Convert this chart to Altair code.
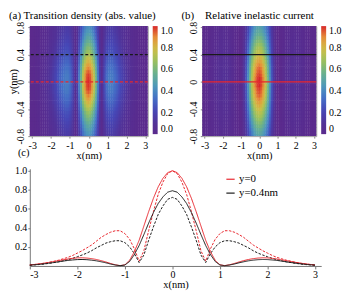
import altair as alt
import pandas as pd

# ---------------- data ----------------
# x grid (nm) for the profiles, -3 ... 3 step 0.1
x_nm = [round(-3 + 0.1 * i, 1) for i in range(61)]

# (c) transition density |rho|, y = 0 (red dashed)
dens_y0 = [0.01, 0.015, 0.021, 0.028, 0.037, 0.048, 0.06, 0.075, 0.09, 0.11,
           0.135, 0.16, 0.19, 0.22, 0.26, 0.30, 0.33, 0.355, 0.37, 0.37,
           0.34, 0.28, 0.18, 0.05, 0.16, 0.37, 0.57, 0.75, 0.88, 0.97,
           1.00,
           0.97, 0.88, 0.75, 0.57, 0.37, 0.16, 0.05, 0.18, 0.28, 0.34,
           0.37, 0.37, 0.355, 0.33, 0.30, 0.26, 0.22, 0.19, 0.16, 0.135,
           0.11, 0.09, 0.075, 0.06, 0.048, 0.037, 0.028, 0.021, 0.015, 0.01]
# (c) transition density, y = 0.4 nm (black dashed)
dens_y04 = [0.007, 0.011, 0.015, 0.02, 0.027, 0.035, 0.043, 0.054, 0.065, 0.08,
            0.097, 0.115, 0.135, 0.16, 0.19, 0.215, 0.24, 0.255, 0.265, 0.265,
            0.245, 0.20, 0.13, 0.036, 0.115, 0.27, 0.41, 0.54, 0.63, 0.70,
            0.72,
            0.70, 0.63, 0.54, 0.41, 0.27, 0.115, 0.036, 0.13, 0.20, 0.245,
            0.265, 0.265, 0.255, 0.24, 0.215, 0.19, 0.16, 0.135, 0.115, 0.097,
            0.08, 0.065, 0.054, 0.043, 0.035, 0.027, 0.02, 0.015, 0.011, 0.007]
# (c) relative inelastic current, y = 0 (red solid)
curr_y0 = [0.011, 0.016, 0.022, 0.029, 0.037, 0.046, 0.055, 0.064, 0.073, 0.080,
           0.085, 0.086, 0.083, 0.077, 0.068, 0.056, 0.042, 0.026, 0.012, 0.004,
           0.012, 0.06, 0.15, 0.27, 0.42, 0.57, 0.71, 0.83, 0.92, 0.98,
           1.00,
           0.98, 0.92, 0.83, 0.71, 0.57, 0.42, 0.27, 0.15, 0.06, 0.012,
           0.004, 0.012, 0.026, 0.042, 0.056, 0.068, 0.077, 0.083, 0.086, 0.085,
           0.080, 0.073, 0.064, 0.055, 0.046, 0.037, 0.029, 0.022, 0.016, 0.011]
# (c) relative inelastic current, y = 0.4 nm (black solid)
curr_y04 = [0.009, 0.013, 0.017, 0.023, 0.029, 0.036, 0.043, 0.051, 0.058, 0.063,
            0.067, 0.068, 0.066, 0.061, 0.054, 0.044, 0.033, 0.02, 0.01, 0.003,
            0.01, 0.047, 0.12, 0.215, 0.33, 0.45, 0.56, 0.655, 0.725, 0.775,
            0.79,
            0.775, 0.725, 0.655, 0.56, 0.45, 0.33, 0.215, 0.12, 0.047, 0.01,
            0.003, 0.01, 0.02, 0.033, 0.044, 0.054, 0.061, 0.066, 0.068, 0.067,
            0.063, 0.058, 0.051, 0.043, 0.036, 0.029, 0.023, 0.017, 0.013, 0.009]

# y grid (nm) of the maps, -0.85 ... 0.85 step 0.05, and the relative fall-off along y
y_nm = [round(-0.85 + 0.05 * j, 2) for j in range(35)]
yfall_dens = [0.40, 0.42, 0.45, 0.48, 0.51, 0.55, 0.59, 0.63, 0.67, 0.72, 0.77, 0.82,
              0.87, 0.91, 0.95, 0.98, 0.99, 1.00, 0.99, 0.98, 0.95, 0.91, 0.87,
              0.82, 0.77, 0.72, 0.67, 0.63, 0.59, 0.55, 0.51, 0.48, 0.45, 0.42, 0.40]
yfall_curr = [0.46, 0.49, 0.52, 0.55, 0.59, 0.63, 0.67, 0.71, 0.75, 0.79, 0.83, 0.87,
              0.91, 0.94, 0.96, 0.98, 1.00, 1.00, 1.00, 0.98, 0.96, 0.94, 0.91,
              0.87, 0.83, 0.79, 0.75, 0.71, 0.67, 0.63, 0.59, 0.55, 0.52, 0.49, 0.46]

x_ticks = [-3, -2, -1, 0, 1, 2, 3]
y_ticks = [-0.8, -0.4, 0, 0.4, 0.8]
c_yticks = [0.2, 0.4, 0.6, 0.8, 1.0]
cbar_ticks = [0, 0.2, 0.4, 0.6, 0.8, 1.0]
series_names = ["y=0", "y=0.4nm"]
cut_lines = [0.0, 0.4]

title_a = "(a) Transition density (abs. value)"
title_b = "(b)\u00a0\u00a0\u00a0\u00a0Relative inelastic current"

# colour map (rainbow, purple -> red)
cmap_stops = [0, 0.11, 0.22, 0.33, 0.44, 0.56, 0.67, 0.78, 0.89, 1.0]
cmap_cols = ["#5b2a8c", "#513399", "#4647b6", "#456fc6", "#4d97bc", "#68b08e",
             "#98c05e", "#cbbf48", "#e6953a", "#d8282a"]

FONT = "Liberation Serif"

# ---------------- tables ----------------
def heat_table(profile, yfall):
    rows = []
    for i, xv in enumerate(x_nm):
        x_lo = xv - 0.06 if i > 0 else xv - 0.3
        x_hi = xv + 0.06 if i < len(x_nm) - 1 else xv + 0.3
        for j, yv in enumerate(y_nm):
            rows.append({"hx": x_lo, "hx2": x_hi, "hy": yv - 0.03, "hy2": yv + 0.03,
                         "v": profile[i] * yfall[j]})
    return pd.DataFrame(rows)

heat_a = heat_table(dens_y0, yfall_dens)
heat_b = heat_table(curr_y0, yfall_curr)

lines_df = pd.DataFrame(
    [{"x": xv, "val": dens_y0[i], "series": series_names[0], "kind": "density"} for i, xv in enumerate(x_nm)]
    + [{"x": xv, "val": dens_y04[i], "series": series_names[1], "kind": "density"} for i, xv in enumerate(x_nm)]
    + [{"x": xv, "val": curr_y0[i], "series": series_names[0], "kind": "current"} for i, xv in enumerate(x_nm)]
    + [{"x": xv, "val": curr_y04[i], "series": series_names[1], "kind": "current"} for i, xv in enumerate(x_nm)]
)
cuts_df = pd.DataFrame({"hy": cut_lines, "series": series_names})

# ---------------- heat map panels ----------------
HX = alt.Scale(domain=[-3.13, 3.13], nice=False, zero=False)
HY = alt.Scale(domain=[-0.8, 0.82], nice=False, zero=False)


def heat_panel(df, title, w, ytitle, dashed, label_expr):
    xax = alt.Axis(values=x_ticks, labelExpr="'' + datum.value", title="x(nm)",
                   tickSize=2, labelPadding=2, titlePadding=1, domain=False,
                   labelFontSize=10, titleFontSize=10.5, titleFontWeight="normal",
                   tickColor="#888", labelOverlap=False)
    yax_kw = dict(values=y_ticks, labelExpr="'' + datum.value", labelAngle=-90,
                  labelAlign="center", labelBaseline="bottom",
                  tickSize=2, labelPadding=2, domain=False, labelFontSize=10,
                  tickColor="#888", labelFlush=True, labelOverlap=False, labelBound=False)
    if ytitle:
        yax = alt.Axis(title="y(nm)", titleFontSize=10.5, titleFontWeight="normal",
                       titleX=-11, **yax_kw)
    else:
        yax = alt.Axis(title=None, **yax_kw)
    heat = alt.Chart(df).mark_rect(clip=True).encode(
        x=alt.X("hx:Q", scale=HX, axis=xax),
        x2="hx2:Q",
        y=alt.Y("hy:Q", scale=HY, axis=yax),
        y2="hy2:Q",
        color=alt.Color("v:Q",
                        scale=alt.Scale(domain=cmap_stops, range=cmap_cols, interpolate="rgb"),
                        legend=alt.Legend(orient="none", legendX=w + 5, legendY=0,
                                          title=None, gradientLength=109, gradientThickness=5,
                                          values=cbar_ticks, labelExpr=label_expr,
                                          labelFontSize=10, labelOffset=3,
                                          gradientStrokeWidth=0)),
    )
    rule_kw = dict(strokeWidth=1.2)
    if dashed:
        rule_kw["strokeDash"] = [3, 2]
    rules = alt.Chart(cuts_df).mark_rule(**rule_kw).encode(
        y=alt.Y("hy:Q", scale=HY, axis=yax),
        color=alt.Color("series:N", scale=alt.Scale(domain=series_names, range=["#e8262e", "#1a1a1a"]),
                        legend=None),
    )
    return alt.layer(heat, rules).resolve_scale(color="independent").properties(
        width=w, height=111,
        title=alt.TitleParams(title, anchor="start", frame="group", dx=-21, offset=0,
                              fontSize=11, fontWeight="normal", font=FONT),
    )


panel_a = heat_panel(heat_a, title_a, 119, True, True, "format(datum.value, '.1f')")
panel_b = heat_panel(heat_b, title_b, 115, False, False,
                     "datum.value == 0 ? '0' : format(datum.value, '.1f')")

# ---------------- line panel ----------------
panel_c = alt.Chart(lines_df).mark_line(strokeWidth=1.0).encode(
    x=alt.X("x:Q", scale=alt.Scale(domain=[-3, 3.13], nice=False, zero=False),
            axis=alt.Axis(values=x_ticks, labelExpr="'' + datum.value", title="x(nm)",
                          tickSize=3, labelPadding=1, titlePadding=0, labelFontSize=10,
                          titleFontSize=10.5, titleFontWeight="normal",
                          domainColor="#777", tickColor="#777", labelOverlap=False)),
    y=alt.Y("val:Q", scale=alt.Scale(domain=[0, 1.02], nice=False, zero=False),
            axis=alt.Axis(values=c_yticks, format=".1f", title=None, tickSize=2,
                          labelPadding=1, labelFontSize=10, domainColor="#777",
                          tickColor="#777", labelOverlap=False)),
    color=alt.Color("series:N", scale=alt.Scale(domain=series_names, range=["#e8262e", "#1a1a1a"]),
                    legend=alt.Legend(orient="none", legendX=197, legendY=5, title=None,
                                      symbolType="stroke", symbolSize=70, symbolStrokeWidth=1.2,
                                      labelFontSize=11, rowPadding=2, labelOffset=3)),
    strokeDash=alt.StrokeDash("kind:N", scale=alt.Scale(domain=["density", "current"],
                                                         range=[[2.5, 1.5], [1, 0]]),
                              legend=None),
    order="x:Q",
).properties(
    width=294, height=98,
    view=alt.ViewBackground(strokeWidth=0),
    title=alt.TitleParams("(c)", anchor="start", frame="group", dx=-12, offset=7,
                          fontSize=10.5, fontWeight="normal", font=FONT),
)

top = alt.hconcat(panel_a, panel_b, spacing=55, bounds="flush").resolve_scale(
    color="independent", x="independent", y="independent").resolve_legend(color="independent")
chart = alt.vconcat(top, panel_c, spacing=-14).resolve_scale(
    color="independent", strokeDash="independent", x="independent", y="independent"
).resolve_legend(color="independent").properties(
    padding=0, background="white"
).configure(font=FONT).configure_axis(grid=False, labelFont=FONT, titleFont=FONT).configure_legend(
    labelFont=FONT).configure_view(stroke="#a0a0a0", strokeWidth=1)

chart.save("out.html", embed_options={"renderer": "svg", "actions": False})
